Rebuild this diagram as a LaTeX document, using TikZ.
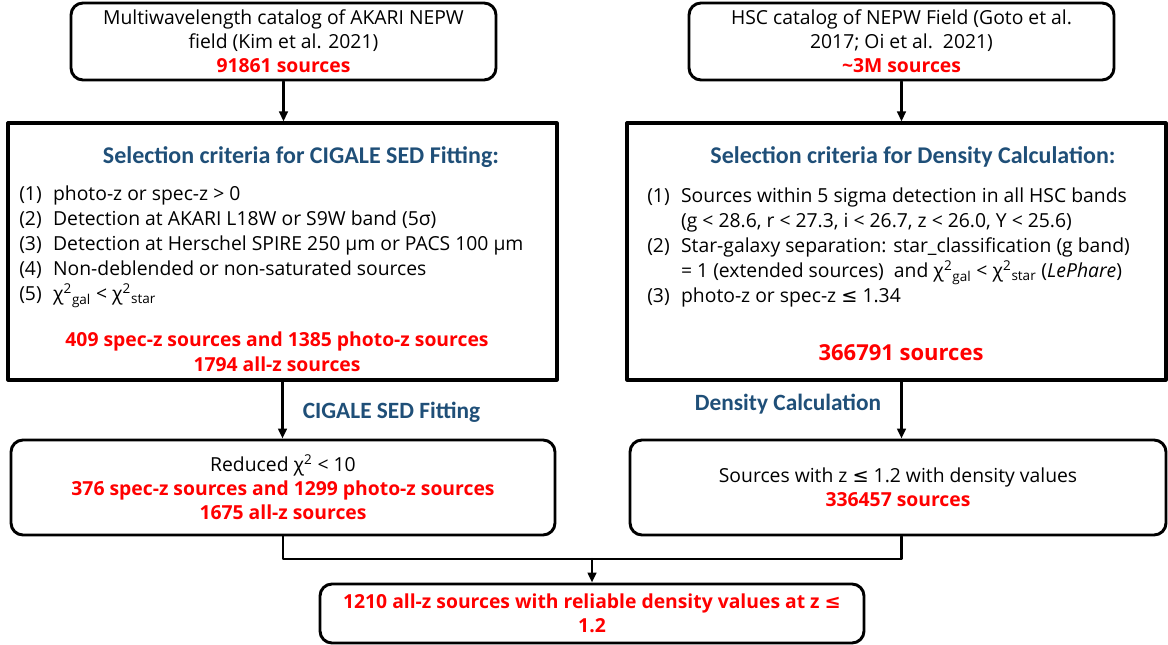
\documentclass[tikz,border=0pt]{standalone}
\usepackage{fontspec}
\setmainfont{Open Sans}
\newfontfamily\headfont{Carlito}
\newfontfamily\symfont{DejaVu Sans}
\usepackage{tikz}
\definecolor{blue}{rgb}{0.12,0.31,0.47}
\definecolor{red}{rgb}{1,0,0}
\usepackage{xcolor}
\usetikzlibrary{arrows.meta}

\newcommand{\chisq}[1]{χ\textsuperscript{2}\textsubscript{#1}}
\newcommand{\leqsym}{{\symfont ≤}}

\begin{document}
\begin{tikzpicture}[x=0.75pt, y=-0.75pt, line cap=round, line join=round,
	roundbox/.style={draw, line width=2.2pt, rounded corners=9pt, align=center, inner sep=0pt, font=\fontsize{14.5}{18}\selectfont},
	critbox/.style={draw, line width=2.4pt, inner sep=0pt},
	crithead/.style={font=\headfont\bfseries\fontsize{18}{21}\selectfont, text=blue, inner sep=0pt},
	critlist/.style={font=\fontsize{14.5}{18.75}\selectfont, anchor=north west, inner sep=0pt},
	srccount/.style={font=\bfseries\fontsize{14.5}{18.5}\selectfont, text=red, align=center, inner sep=0pt},
	steplabel/.style={font=\headfont\bfseries\fontsize{17.5}{20}\selectfont, text=blue, inner sep=0pt},
	flow/.style={line width=1.8pt, -{Triangle[length=7.5pt,width=6.5pt]}}]
	\useasboundingbox (0,0) rectangle (1168,645);
	% input catalogs
	\node[roundbox, minimum width=318.75pt, minimum height=57.75pt] (akari) at (283.5,41.5) {Multiwavelength catalog of AKARI NEPW\\field (Kim et al. 2021)\\\textcolor{red}{\bfseries 91861 sources}};
	\node[roundbox, minimum width=318.75pt, minimum height=57.75pt] (hsc) at (901.5,41.5) {HSC catalog of NEPW Field (Goto et al.\\2017; Oi et al.\ \ 2021)\\\textcolor{red}{\bfseries \textasciitilde 3M sources}};
	% selection for SED fitting
	\node[critbox, minimum width=411.75pt, minimum height=192.75pt] (critfit) at (282.5,251.5) {};
	\node[crithead] (headfit) at (301,157) {Selection criteria for CIGALE SED Fitting:};
	\node[critlist] (listfit) at (19,183) {\begin{tabular}{@{}l@{\hspace{8.5pt}}l@{}}
		(1) & photo-z or spec-z > 0\\
		(2) & Detection at AKARI L18W or S9W band (5σ)\\
		(3) & Detection at Herschel SPIRE 250 µm or PACS 100 µm\\
		(4) & Non-deblended or non-saturated sources\\
		(5) & \chisq{gal} < \chisq{star}
	\end{tabular}};
	\node[srccount] (nfit) at (277,351.5) {409 spec-z sources and 1385 photo-z sources\\1794 all-z sources};
	% selection for density
	\node[critbox, minimum width=404.25pt, minimum height=192.75pt] (critdens) at (896.5,251.5) {};
	\node[crithead] (headdens) at (913,157) {Selection criteria for Density Calculation:};
	\node[critlist] (listdens) at (647,185) {\begin{tabular}{@{}l@{\hspace{8.5pt}}l@{}}
		(1) & Sources within 5 sigma detection in all HSC bands\\
		    & (g < 28.6, r < 27.3, i < 26.7, z < 26.0, Y < 25.6)\\
		(2) & Star-galaxy separation: star\_classification (g band)\\
		    & = 1 (extended sources)\ \ and \chisq{gal} < \chisq{star} (\textit{LePhare})\\
		(3) & photo-z or spec-z \leqsym{} 1.34
	\end{tabular}};
	\node[srccount, font=\bfseries\fontsize{16.5}{20}\selectfont] (ndens) at (901,353) {366791 sources};
	% results
	\node[roundbox, minimum width=408pt, minimum height=71.25pt] (fit) at (283,487.5) {Reduced χ\textsuperscript{2} < 10\\\textcolor{red}{\bfseries 376 spec-z sources and 1299 photo-z sources}\\\textcolor{red}{\bfseries 1675 all-z sources}};
	\node[roundbox, minimum width=402pt, minimum height=71.25pt] (dens) at (898,487.5) {Sources with z \leqsym{} 1.2 with density values\\\textcolor{red}{\bfseries 336457 sources}};
	\node[roundbox, minimum width=408pt, minimum height=44.25pt] (final) at (592,613.5) {\textcolor{red}{\bfseries 1210 all-z sources with reliable density values at z \leqsym}\\\textcolor{red}{\bfseries 1.2}};
	% connectors
	\draw[flow] (akari.south) -- (akari.south |- critfit.north);
	\draw[flow] (hsc.south) -- (hsc.south |- critdens.north);
	\draw[flow] (critfit.south) -- (critfit.south |- fit.north);
	\draw[flow] (hsc.south |- critdens.south) -- (hsc.south |- dens.north);
	\coordinate (merge) at (592,559);
	\draw[line width=1.8pt] (fit.south) |- (merge) -| (hsc.south |- dens.south);
	\draw[flow] (merge) -- (final.north);
	\node[steplabel] (fitlbl) at (391.5,412) {CIGALE SED Fitting};
	\node[steplabel] (denslbl) at (788,404) {Density Calculation};
\end{tikzpicture}
\end{document}
